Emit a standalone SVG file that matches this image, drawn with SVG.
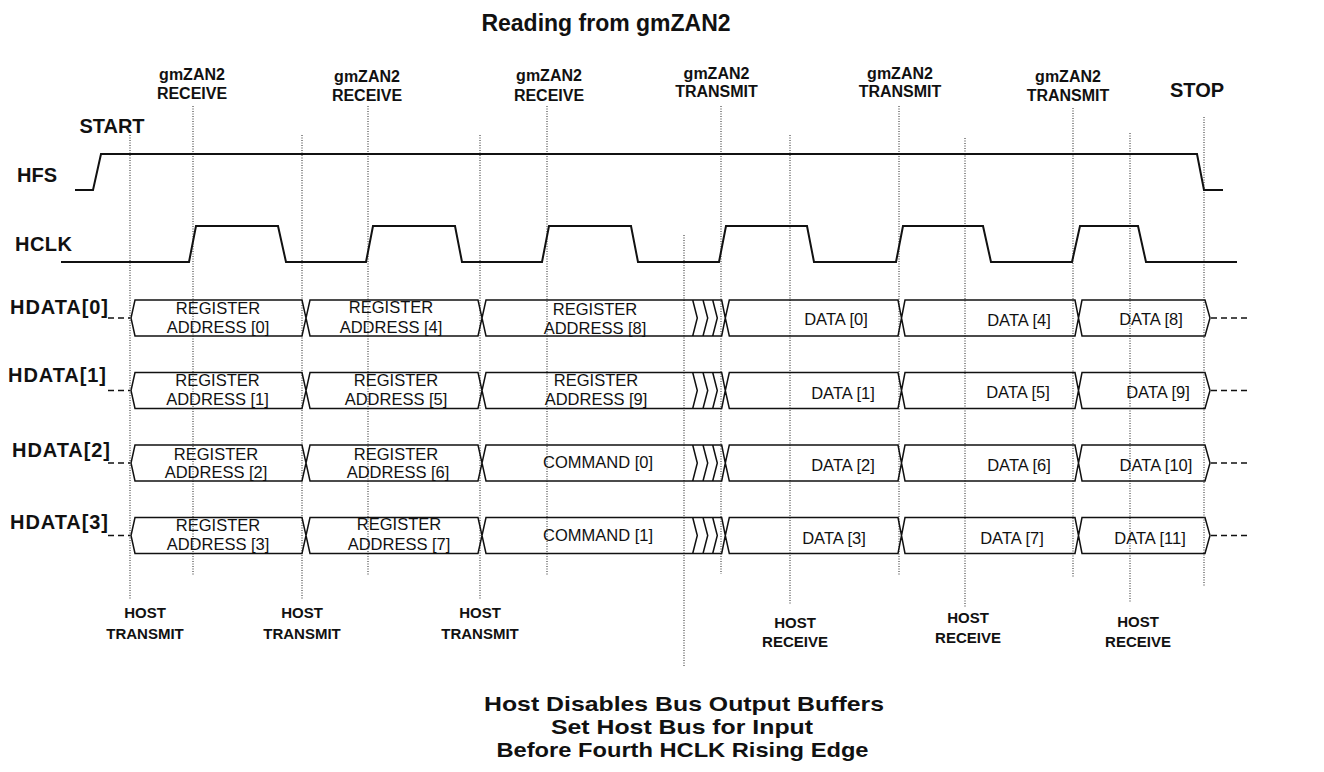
<svg xmlns="http://www.w3.org/2000/svg" width="1324" height="772" viewBox="0 0 1324 772">
<style>
text{font-family:"Liberation Sans",Arial,sans-serif;fill:#111}
.b{font-weight:bold}
.lab{font-weight:bold;font-size:16px;text-anchor:middle}
.big{font-weight:bold;font-size:20px}
.bot{font-weight:bold;font-size:15px;text-anchor:middle}
.seg{font-size:16.5px;text-anchor:middle}
.note{font-weight:bold;font-size:21px;text-anchor:middle}
.sig{fill:none;stroke:#111;stroke-width:2}
.box{fill:none;stroke:#111;stroke-width:1.5;stroke-linejoin:miter}
.dot{fill:none;stroke:#222;stroke-width:1;stroke-dasharray:1 1.5}
.dash{fill:none;stroke:#111;stroke-width:1.3;stroke-dasharray:6 4}
</style>
<defs>
<path id="rowshape" d="M135,0 H302 L306,18 L302,36 H135 L131,18 Z M310,0 H478 L482,18 L478,36 H310 L306,18 Z M486,0 H721.7 L725.3,18 L721.7,36 H486 L482,18 Z M692.7,0 L697.3,18 L692.7,36 M703,0 L707.7,18 L703,36 M712.7,0 L717.3,18 L712.7,36 M729.3,0 H898 L901.5,18 L898,36 H729.3 L725.3,18 Z M905,0 H1075 L1078.5,18 L1075,36 H905 L901.5,18 Z M1082,0 H1205 L1210,18 L1205,36 H1082 L1078.5,18 Z"/>
</defs>
<rect width="1324" height="772" fill="#fff"/>

<g id="title"><text class="b" x="606" y="31" font-size="23" text-anchor="middle">Reading from gmZAN2</text></g>

<g id="connectors">
<path class="dot" d="M130,135 V600 M193,106 V576 M302,135 V600 M368,106 V576 M480,135 V600 M547,106 V576 M684,235 V667 M721,106 V574 M790,135 V605 M899,106 V575 M965,138 V607 M1073,108 V577 M1130,133 V603 M1204,117 V587"/>
</g>

<g id="top-labels">
<text class="lab" x="192" y="80">gmZAN2</text><text class="lab" x="192" y="99">RECEIVE</text>
<text class="lab" x="367" y="82">gmZAN2</text><text class="lab" x="367" y="101">RECEIVE</text>
<text class="lab" x="549" y="81">gmZAN2</text><text class="lab" x="549" y="100.5">RECEIVE</text>
<text class="lab" x="716.5" y="78.5">gmZAN2</text><text class="lab" x="716.5" y="97">TRANSMIT</text>
<text class="lab" x="900" y="79">gmZAN2</text><text class="lab" x="900" y="97">TRANSMIT</text>
<text class="lab" x="1068" y="81.5">gmZAN2</text><text class="lab" x="1068" y="100.5">TRANSMIT</text>
<text class="big" x="1197" y="97" font-size="21" text-anchor="middle">STOP</text>
<text class="big" x="112" y="133" font-size="21" text-anchor="middle">START</text>
</g>

<g id="HFS">
<text class="big" x="17" y="182">HFS</text>
<path class="sig" d="M75,190 H93 L101,154 H1197 L1204,190 H1223"/>
</g>

<g id="HCLK">
<text class="big" x="15" y="251" textLength="57">HCLK</text>
<path class="sig" d="M61,262 H189 L196,226 H278 L286,262 H366 L373,226 H455 L462,262 H542 L549,226 H631 L638,262 H719 L726,226 H807 L814,262 H896 L903,226 H983 L991,262 H1072 L1080,226 H1138 L1146,262 H1237"/>
</g>

<g id="HDATA0">
<text class="big" x="10" y="314" textLength="98">HDATA[0]</text>
<path class="dash" d="M108,318 H130 M1211,318 H1250"/>
<use href="#rowshape" class="box" transform="translate(0,300)"/>
<text class="seg" x="218" y="314">REGISTER</text><text class="seg" x="218" y="333">ADDRESS [0]</text>
<text class="seg" x="391" y="313">REGISTER</text><text class="seg" x="391" y="333">ADDRESS [4]</text>
<text class="seg" x="595" y="315">REGISTER</text><text class="seg" x="595" y="334">ADDRESS [8]</text>
<text class="seg" x="836" y="325">DATA [0]</text>
<text class="seg" x="1019" y="325.5">DATA [4]</text>
<text class="seg" x="1151" y="325">DATA [8]</text>
</g>

<g id="HDATA1">
<text class="big" x="8" y="382" textLength="98">HDATA[1]</text>
<path class="dash" d="M108,390.5 H130 M1211,390.5 H1250"/>
<use href="#rowshape" class="box" transform="translate(0,372.5)"/>
<text class="seg" x="217.5" y="386">REGISTER</text><text class="seg" x="217.5" y="404.5">ADDRESS [1]</text>
<text class="seg" x="396" y="386">REGISTER</text><text class="seg" x="396" y="404.5">ADDRESS [5]</text>
<text class="seg" x="596" y="386">REGISTER</text><text class="seg" x="596" y="405">ADDRESS [9]</text>
<text class="seg" x="843" y="399">DATA [1]</text>
<text class="seg" x="1018" y="397.5">DATA [5]</text>
<text class="seg" x="1158" y="397.5">DATA [9]</text>
</g>

<g id="HDATA2">
<text class="big" x="12" y="457" textLength="98">HDATA[2]</text>
<path class="dash" d="M108,463 H130 M1211,463 H1250"/>
<use href="#rowshape" class="box" transform="translate(0,445)"/>
<text class="seg" x="216" y="460">REGISTER</text><text class="seg" x="216" y="478">ADDRESS [2]</text>
<text class="seg" x="396" y="460">REGISTER</text><text class="seg" x="398" y="478">ADDRESS [6]</text>
<text class="seg" x="598" y="468">COMMAND [0]</text>
<text class="seg" x="843" y="470.5">DATA [2]</text>
<text class="seg" x="1019" y="470.5">DATA [6]</text>
<text class="seg" x="1156" y="470.5">DATA [10]</text>
</g>

<g id="HDATA3">
<text class="big" x="10" y="529" textLength="98">HDATA[3]</text>
<path class="dash" d="M108,535.5 H130 M1211,535.5 H1250"/>
<use href="#rowshape" class="box" transform="translate(0,517.5)"/>
<text class="seg" x="218" y="531">REGISTER</text><text class="seg" x="218" y="550">ADDRESS [3]</text>
<text class="seg" x="399" y="530">REGISTER</text><text class="seg" x="399" y="550">ADDRESS [7]</text>
<text class="seg" x="598" y="541">COMMAND [1]</text>
<text class="seg" x="834" y="544">DATA [3]</text>
<text class="seg" x="1012" y="544">DATA [7]</text>
<text class="seg" x="1150" y="544">DATA [11]</text>
</g>

<g id="bottom-labels">
<text class="bot" x="145" y="618">HOST</text><text class="bot" x="145" y="639">TRANSMIT</text>
<text class="bot" x="302" y="618">HOST</text><text class="bot" x="302" y="639">TRANSMIT</text>
<text class="bot" x="480" y="618">HOST</text><text class="bot" x="480" y="639">TRANSMIT</text>
<text class="bot" x="795" y="628">HOST</text><text class="bot" x="795" y="647">RECEIVE</text>
<text class="bot" x="968" y="623">HOST</text><text class="bot" x="968" y="643">RECEIVE</text>
<text class="bot" x="1138" y="627">HOST</text><text class="bot" x="1138" y="647">RECEIVE</text>
</g>

<g id="note">
<text class="note" x="684" y="711" textLength="400" lengthAdjust="spacingAndGlyphs">Host Disables Bus Output Buffers</text>
<text class="note" x="682" y="734" textLength="262" lengthAdjust="spacingAndGlyphs">Set Host Bus for Input</text>
<text class="note" x="682.5" y="757" textLength="372" lengthAdjust="spacingAndGlyphs">Before Fourth HCLK Rising Edge</text>
</g>
</svg>
